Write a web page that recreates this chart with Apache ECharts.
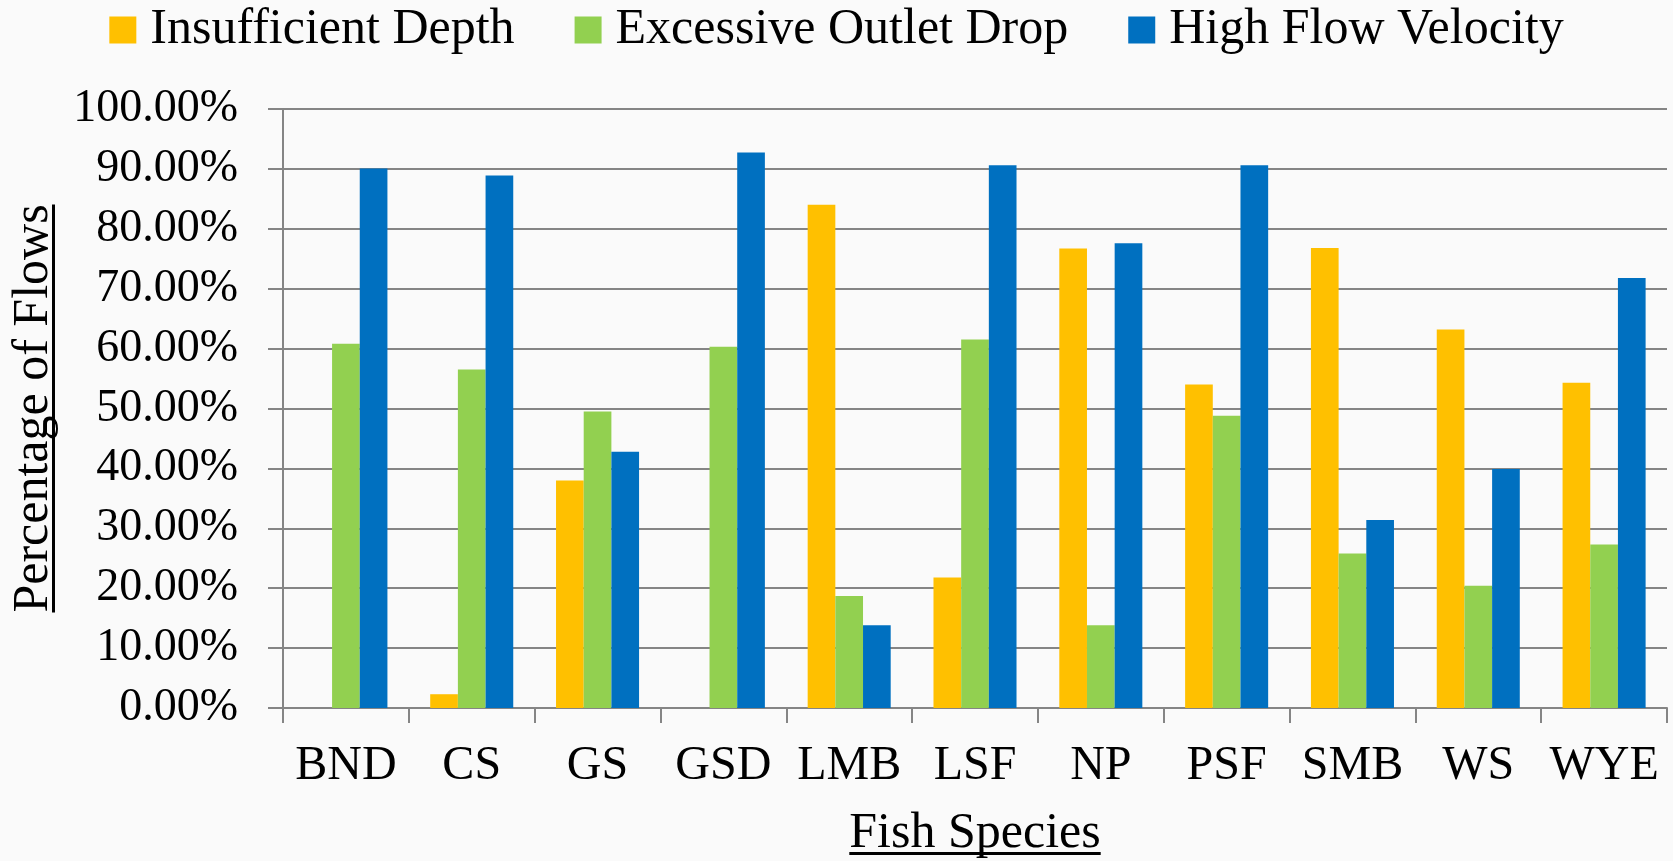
<!DOCTYPE html>
<html>
<head>
<meta charset="utf-8">
<title>Fish passage barriers by species</title>
<script src="https://cdn.jsdelivr.net/npm/echarts@6/dist/echarts.min.js"></script>
<style>
  html, body { margin: 0; padding: 0; background: #fafafa; }
  #chart { width: 1673px; height: 861px; }
</style>
</head>
<body>
<div id="chart"></div>
<script>
// Fish species codes along the horizontal axis
const species = ['BND', 'CS', 'GS', 'GSD', 'LMB', 'LSF', 'NP', 'PSF', 'SMB', 'WS', 'WYE'];

// Percentage of flows at which each barrier type occurs
const insufficientDepth = [0, 2.3, 38.0, 0, 84.0, 21.8, 76.7, 54.0, 76.8, 63.2, 54.3];
const excessiveOutletDrop = [60.8, 56.5, 49.5, 60.3, 18.7, 61.5, 13.8, 48.8, 25.8, 20.4, 27.3];
const highFlowVelocity = [90.05, 88.9, 42.8, 92.75, 13.8, 90.6, 77.6, 90.6, 31.4, 39.9, 71.8];

const seriesNames = ['Insufficient Depth', 'Excessive Outlet Drop', 'High Flow Velocity'];
const seriesColors = ['#FFC000', '#92D050', '#0070C0'];

const xTitle = 'Fish Species';
const yTitle = 'Percentage of Flows';

const serif = '"Liberation Serif", "DejaVu Serif", serif';
const gridColor = '#858585';

const W = 1673, H = 861;
const gridLeft = 283, gridRight = 6, gridTop = 109, gridBottom = 153;
const plotCenterX = gridLeft + (W - gridLeft - gridRight) / 2;
const plotCenterY = gridTop + (H - gridTop - gridBottom) / 2;

function textWidth(txt, font) {
  const ctx = document.createElement('canvas').getContext('2d');
  ctx.font = font;
  return ctx.measureText(txt).width;
}

const titleFont = '50px ' + serif;
const xTitleW = textWidth(xTitle, titleFont);
const yTitleW = textWidth(yTitle, titleFont);

const chart = echarts.init(document.getElementById('chart'), null, { renderer: 'canvas' });

const seriesData = [insufficientDepth, excessiveOutletDrop, highFlowVelocity];

chart.setOption({
  backgroundColor: '#fafafa',
  animation: false,
  color: seriesColors,
  legend: {
    data: seriesNames,
    top: 0,
    left: 'center',
    icon: 'rect',
    itemWidth: 27,
    itemHeight: 27,
    itemGap: 60,
    textStyle: {
      fontFamily: serif,
      fontSize: 50,
      color: '#000',
      padding: [0, 0, 0, 9]
    }
  },
  grid: {
    left: gridLeft,
    right: gridRight,
    top: gridTop,
    bottom: gridBottom,
    containLabel: false
  },
  xAxis: {
    type: 'category',
    data: species,
    boundaryGap: true,
    axisLine: { show: true, lineStyle: { color: gridColor, width: 2 } },
    axisTick: { show: true, interval: 0, length: 15, lineStyle: { color: gridColor, width: 2 } },
    axisLabel: {
      interval: 0,
      margin: 34,
      fontFamily: serif,
      fontSize: 48,
      color: '#000'
    },
    splitLine: { show: false }
  },
  yAxis: {
    type: 'value',
    min: 0,
    max: 100,
    interval: 10,
    axisLine: { show: true, lineStyle: { color: gridColor, width: 2 } },
    axisTick: { show: true, length: 15, lineStyle: { color: gridColor, width: 2 } },
    axisLabel: {
      margin: 45,
      fontFamily: serif,
      fontSize: 46,
      color: '#000',
      formatter: v => v.toFixed(2) + '%'
    },
    splitLine: { show: true, lineStyle: { color: gridColor, width: 2 } }
  },
  series: seriesNames.map((name, i) => ({
    name: name,
    type: 'bar',
    data: seriesData[i],
    barWidth: '22%',
    barGap: '0%',
    itemStyle: { color: seriesColors[i] }
  })),
  graphic: [
    {
      type: 'group',
      x: plotCenterX,
      y: 834,
      children: [
        {
          type: 'text',
          x: 0, y: 0,
          style: { text: xTitle, font: titleFont, fill: '#000', align: 'center', verticalAlign: 'middle' }
        },
        {
          type: 'rect',
          shape: { x: -xTitleW / 2, y: 18, width: xTitleW, height: 3 },
          style: { fill: '#000' }
        }
      ]
    },
    {
      type: 'group',
      x: 34,
      y: plotCenterY,
      rotation: Math.PI / 2,
      children: [
        {
          type: 'text',
          x: 0, y: 0,
          style: { text: yTitle, font: titleFont, fill: '#000', align: 'center', verticalAlign: 'middle' }
        },
        {
          type: 'rect',
          shape: { x: -yTitleW / 2, y: 18, width: yTitleW, height: 3 },
          style: { fill: '#000' }
        }
      ]
    }
  ]
});
</script>
</body>
</html>
